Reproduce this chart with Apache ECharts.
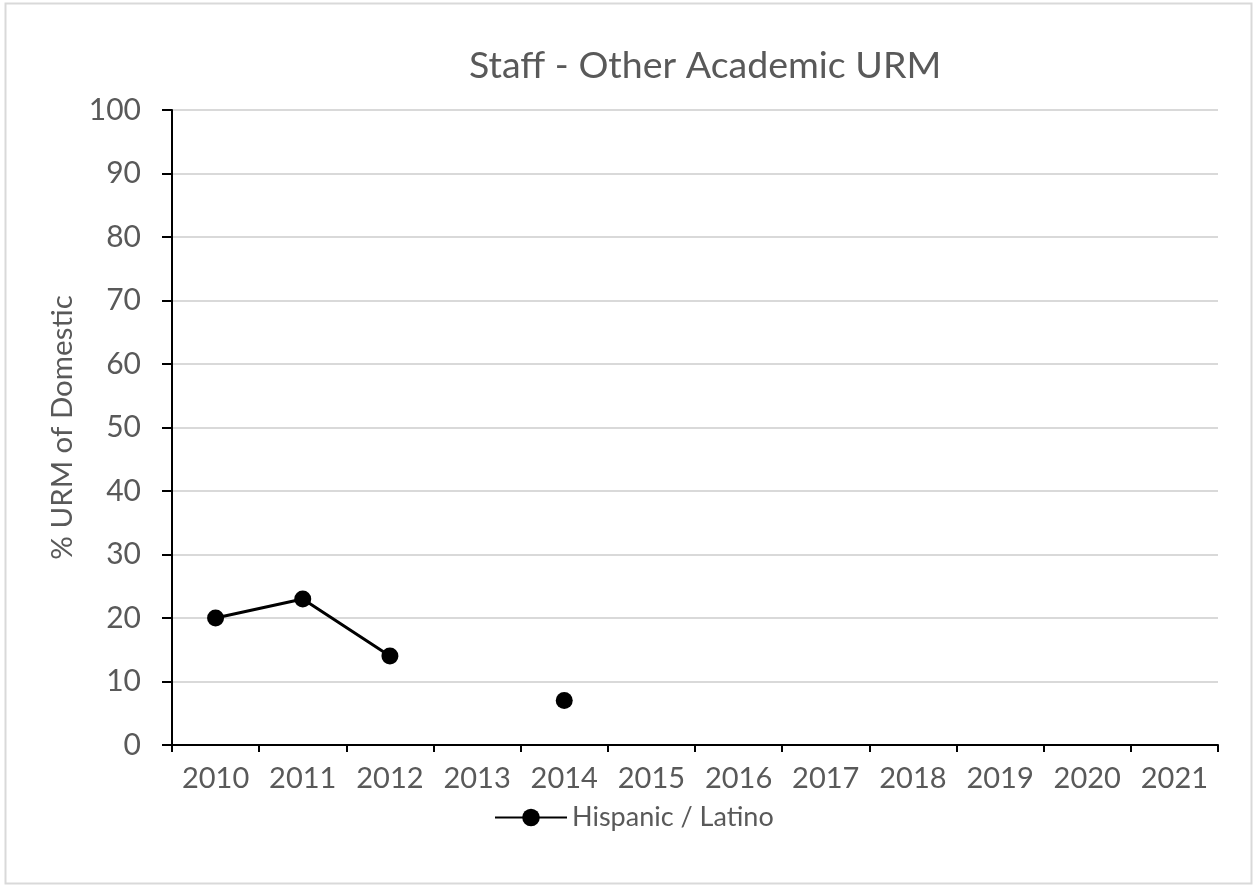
<!DOCTYPE html>
<html>
<head>
<meta charset="utf-8">
<script src="https://cdn.jsdelivr.net/npm/echarts@6/dist/echarts.min.js"></script>
<style>
  html, body { margin: 0; padding: 0; background: #fff; }
  #chart { width: 1254px; height: 888px; }
</style>
</head>
<body>
<div id="chart"></div>
<script>
const years = ['2010', '2011', '2012', '2013', '2014', '2015', '2016', '2017', '2018', '2019', '2020', '2021'];
const hispanicLatino = [20, 23, 14, null, 7, null, null, null, null, null, null, null];
const seriesName = 'Hispanic / Latino';

const textColor = '#595959';
const font = 'Lato';

const chart = echarts.init(document.getElementById('chart'), null, { renderer: 'canvas' });

chart.setOption({
  backgroundColor: '#fff',
  textStyle: { fontFamily: font },
  animation: false,
  graphic: [{
    type: 'rect',
    shape: { x: 5.5, y: 3.5, width: 1246, height: 880 },
    style: { fill: 'none', stroke: '#d9d9d9', lineWidth: 2 },
    silent: true
  }],
  title: {
    text: 'Staff - Other Academic URM',
    left: 464,
    top: 42,
    textStyle: { fontFamily: font, fontSize: 37.5, fontWeight: 'normal', color: textColor }
  },
  legend: {
    bottom: 52,
    left: 489,
    itemWidth: 72,
    itemHeight: 22,
    itemGap: 8,
    textStyle: { fontFamily: font, fontSize: 27, color: textColor },
    data: [seriesName]
  },
  grid: { left: 172, right: 36, top: 110, bottom: 143, containLabel: false },
  xAxis: {
    type: 'category',
    data: years,
    boundaryGap: true,
    axisLine: { lineStyle: { color: '#000', width: 2 } },
    axisTick: { show: true, length: 7, interval: 0, alignWithLabel: false, lineStyle: { color: '#000', width: 2 } },
    axisLabel: { fontFamily: font, fontSize: 29, color: textColor, margin: 19, interval: 0 },
    splitLine: { show: false }
  },
  yAxis: {
    type: 'value',
    min: 0,
    max: 100,
    interval: 10,
    name: '% URM of Domestic',
    nameLocation: 'middle',
    nameGap: 90,
    nameTextStyle: { fontFamily: font, fontSize: 29.5, color: textColor },
    axisLine: { show: true, lineStyle: { color: '#000', width: 2 } },
    axisTick: { show: true, length: 10, lineStyle: { color: '#000', width: 2 } },
    axisLabel: { fontFamily: font, fontSize: 30, color: textColor, margin: 31 },
    splitLine: { show: true, lineStyle: { color: '#d9d9d9', width: 2 } }
  },
  series: [{
    name: seriesName,
    type: 'line',
    data: hispanicLatino,
    connectNulls: false,
    symbol: 'circle',
    symbolSize: 17,
    showAllSymbol: true,
    itemStyle: { color: '#000' },
    lineStyle: { color: '#000', width: 3 }
  }]
});
</script>
</body>
</html>
